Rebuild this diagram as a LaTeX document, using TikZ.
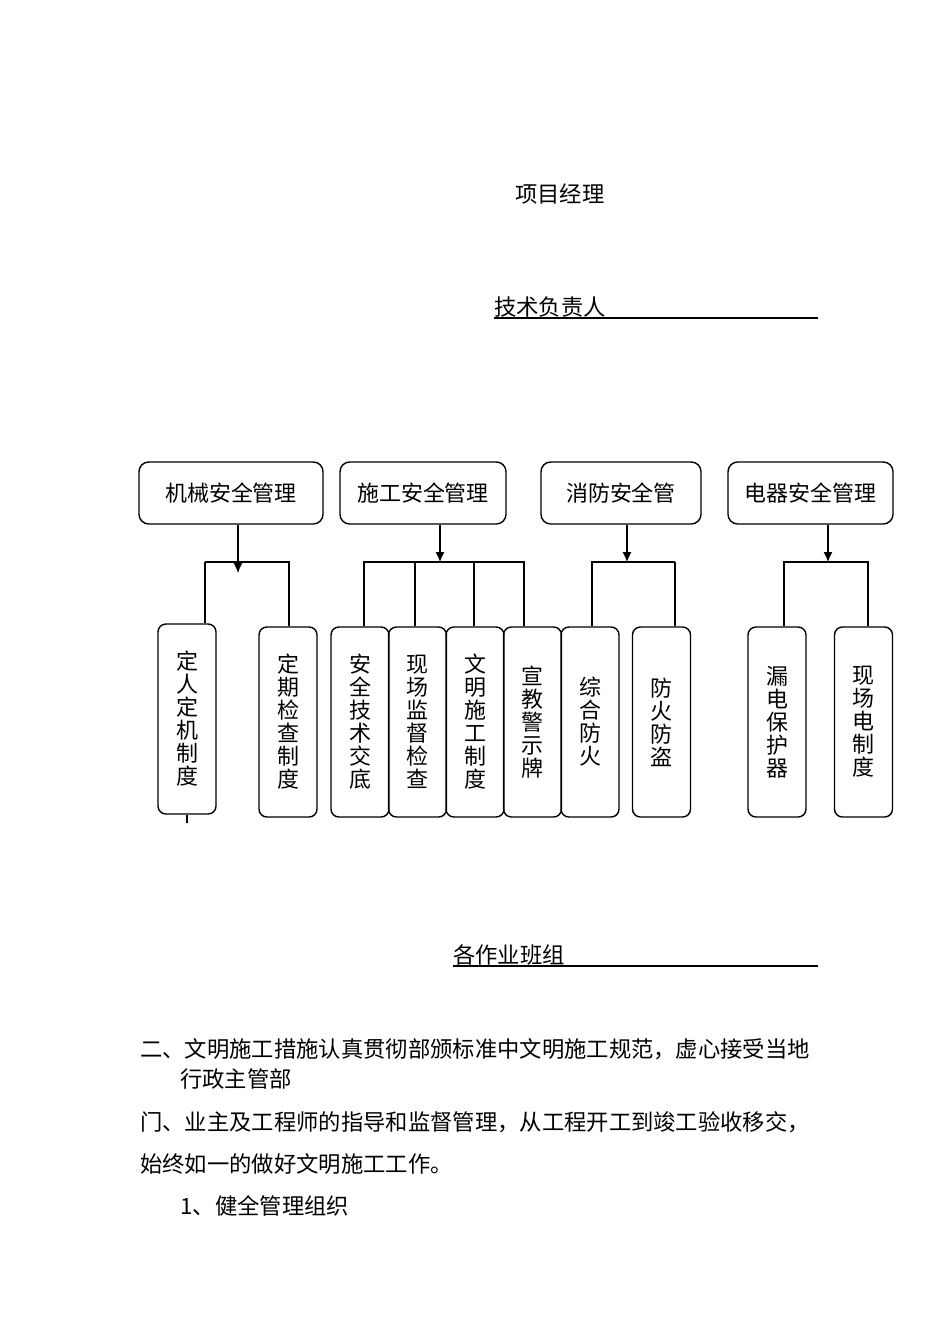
\documentclass[tikz,border=0pt]{standalone}
\usepackage{fontspec}
\newfontfamily\cjk{Noto Sans CJK SC}
\usetikzlibrary{calc, arrows.meta, positioning}
\usepackage{xcolor}

\begin{document}
\begin{tikzpicture}[auto, >={Latex[length=2mm, width=1.8mm]}, x=0.2mm, y=-0.2mm]
				\tikzstyle{txt} = [draw=none, inner sep=0pt, anchor=west, font=\cjk\fontsize{12.7}{13.1}\selectfont]
				\tikzstyle{head} = [line width=0.8pt, draw=black, rounded corners=5.5pt, minimum height=1.24cm, inner sep=0pt, font=\cjk\fontsize{12.5}{13.1}\selectfont]
				\tikzstyle{item} = [line width=0.8pt, draw=black, rounded corners=4.5pt, minimum width=1.16cm, minimum height=3.8cm, inner sep=0pt, align=center, font=\cjk\fontsize{12.5}{13.1}\selectfont]
				\tikzstyle{link} = [line width=0.6pt]
				
				\useasboundingbox (0,0) rectangle (950,1344);
				
				% titles
				\node[txt]		at (515, 194)	(pm)	{项目经理};
				\node[txt]		at (494, 307)	(tech)	{技术负责人};
				\node[txt]		at (453, 955)	(team)	{各作业班组};
				\draw[link] (494, 318) -- (818, 318);
				\draw[link] (453, 966) -- (818, 966);
				
				% top row
				\node[head, minimum width=3.68cm] at (231, 493)		(mech)	{机械安全管理};
				\node[head, minimum width=3.32cm] at (423, 493)		(cons)	{施工安全管理};
				\node[head, minimum width=3.2cm]  at (621, 493)		(fire)	{消防安全管};
				\node[head, minimum width=3.3cm]  at (810.5, 493)	(elec)	{电器安全管理};
				
				% bottom row
				\node[item] at (187, 719)	(d1)	{定\\人\\定\\机\\制\\度};
				\node[item] at (288, 722)	(d2)	{定\\期\\检\\查\\制\\度};
				\node[item] at (360, 722)	(c1)	{安\\全\\技\\术\\交\\底};
				\node[item] at (417.5, 722)	(c2)	{现\\场\\监\\督\\检\\查};
				\node[item] at (475, 722)	(c3)	{文\\明\\施\\工\\制\\度};
				\node[item] at (532.5, 722)	(c4)	{宣\\教\\警\\示\\牌};
				\node[item] at (590, 722)	(f1)	{综\\合\\防\\火};
				\node[item] at (661.5, 722)	(f2)	{防\\火\\防\\盗};
				\node[item] at (777, 722)	(e1)	{漏\\电\\保\\护\\器};
				\node[item] at (863.5, 722)	(e2)	{现\\场\\电\\制\\度};
				
				% junctions
				\coordinate (mecha) at (238, 573);
				\coordinate (mechl) at (205, 562);
				\coordinate (mechr) at (289, 562);
				\coordinate (consa) at (440, 562);
				\coordinate (consl) at (364, 562);
				\coordinate (consm) at (415, 562);
				\coordinate (consn) at (474, 562);
				\coordinate (consr) at (524, 562);
				\coordinate (firea) at (627, 562);
				\coordinate (firel) at (592, 562);
				\coordinate (firer) at (675, 562);
				\coordinate (eleca) at (828, 562);
				\coordinate (elecl) at (784, 562);
				\coordinate (elecr) at (868, 562);
				
				\draw[link, ->] (mech.south -| mecha) -- (mecha);
				\draw[link, ->] (cons.south -| consa) -- (consa);
				\draw[link, ->] (fire.south -| firea) -- (firea);
				\draw[link, ->] (elec.south -| eleca) -- (eleca);
				
				\draw[link] (mechl) -- (mechr) -- (mechr |- d2.north);
				\draw[line width=1.2pt] (mechl) -- (mechl |- d1.north);
				\draw[link] (d1.south) -- ++(0, 8);
				
				\draw[link] (consl |- c1.north) -- (consl) -- (consr) -- (consr |- c4.north);
				\draw[link] (consm) -- (consm |- c2.north);
				\draw[line width=1.2pt] (consn) -- (consn |- c3.north);
				
				\draw[link] (firel |- f1.north) -- (firel) -- (firer);
				\draw[line width=1.2pt] (firer) -- (firer |- f2.north);
				
				\draw[link] (elecl |- e1.north) -- (elecl) -- (elecr) -- (elecr |- e2.north);
				
				% text below
				\node[txt] at (140, 1049)	(p1)	{二、文明施工措施认真贯彻部颁标准中文明施工规范，虚心接受当地};
				\node[txt] at (180, 1079)	(p2)	{行政主管部};
				\node[txt] at (140, 1122)	(p3)	{门、业主及工程师的指导和监督管理，从工程开工到竣工验收移交，};
				\node[txt] at (140, 1164)	(p4)	{始终如一的做好文明施工工作。};
				\node[txt] at (180, 1206)	(p5)	{1、健全管理组织};
			\end{tikzpicture}
\end{document}
